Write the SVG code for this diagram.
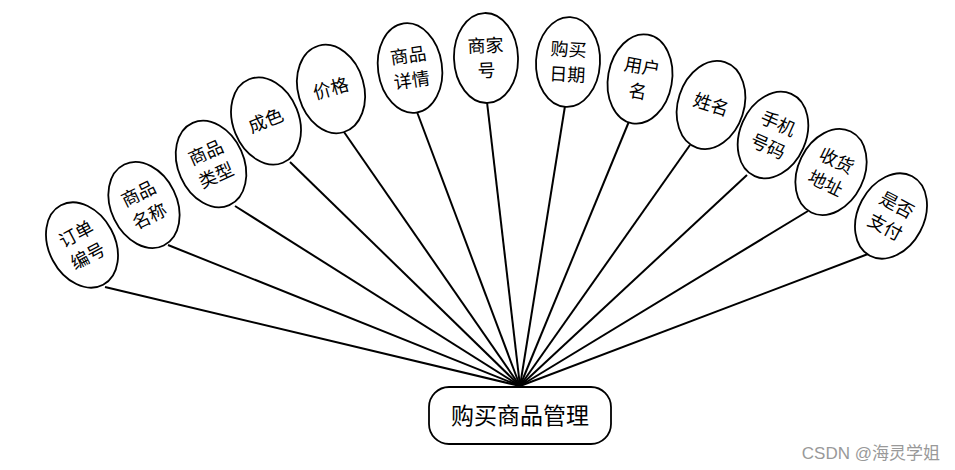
<svg xmlns="http://www.w3.org/2000/svg" width="955" height="470" viewBox="0 0 955 470">
<style>
.e{fill:#fff;stroke:#000;stroke-width:1.8}
.t{font-family:"Noto Sans CJK SC","Liberation Serif",serif;font-size:18px;fill:#000;text-anchor:middle}
.c line{stroke:#000;stroke-width:2}
</style>
<rect width="955" height="470" fill="#fff"/>
<g class="c" id="connectors">
<line x1="105" y1="287" x2="520" y2="386"/>
<line x1="168" y1="245" x2="520" y2="386"/>
<line x1="235" y1="206" x2="520" y2="386"/>
<line x1="290" y1="162" x2="520" y2="386"/>
<line x1="344" y1="132" x2="520" y2="386"/>
<line x1="417" y1="112" x2="520" y2="386"/>
<line x1="487" y1="102" x2="520" y2="386"/>
<line x1="565" y1="106" x2="520" y2="386"/>
<line x1="630" y1="119" x2="520" y2="386"/>
<line x1="690" y1="145" x2="520" y2="386"/>
<line x1="747" y1="175" x2="520" y2="386"/>
<line x1="808" y1="211" x2="520" y2="386"/>
<line x1="868" y1="254" x2="520" y2="386"/>
</g>
<g id="n1" transform="translate(82,245) rotate(-28)"><ellipse class="e" rx="33" ry="45"/><text class="t" y="-6">订单</text><text class="t" y="19">编号</text></g>
<g id="n2" transform="translate(144,205) rotate(-26)"><ellipse class="e" rx="33" ry="45"/><text class="t" y="-6">商品</text><text class="t" y="19">名称</text></g>
<g id="n3" transform="translate(211,164) rotate(-24)"><ellipse class="e" rx="33" ry="45"/><text class="t" y="-6">商品</text><text class="t" y="19">类型</text></g>
<g id="n4" transform="translate(266,121) rotate(-22)"><ellipse class="e" rx="33" ry="45"/><text class="t" y="6">成色</text></g>
<g id="n5" transform="translate(331,89) rotate(-16)"><ellipse class="e" rx="33" ry="45"/><text class="t" y="6">价格</text></g>
<g id="n6" transform="translate(410,68) rotate(-8)"><ellipse class="e" rx="32" ry="45"/><text class="t" y="-6">商品</text><text class="t" y="19">详情</text></g>
<g id="n7" transform="translate(486,58) rotate(-2)"><ellipse class="e" rx="32" ry="45"/><text class="t" y="-6">商家</text><text class="t" y="19">号</text></g>
<g id="n8" transform="translate(568,62) rotate(3)"><ellipse class="e" rx="32" ry="45"/><text class="t" y="-6">购买</text><text class="t" y="19">日期</text></g>
<g id="n9" transform="translate(640,79) rotate(10)"><ellipse class="e" rx="32" ry="45"/><text class="t" y="-6">用户</text><text class="t" y="19">名</text></g>
<g id="n10" transform="translate(711,105) rotate(18)"><ellipse class="e" rx="33" ry="45"/><text class="t" y="6">姓名</text></g>
<g id="n11" transform="translate(773,135) rotate(24)"><ellipse class="e" rx="33" ry="45"/><text class="t" y="-6">手机</text><text class="t" y="19">号码</text></g>
<g id="n12" transform="translate(831,172) rotate(26)"><ellipse class="e" rx="33" ry="45"/><text class="t" y="-6">收货</text><text class="t" y="19">地址</text></g>
<g id="n13" transform="translate(891,216) rotate(28)"><ellipse class="e" rx="33" ry="45"/><text class="t" y="-6">是否</text><text class="t" y="19">支付</text></g>
<g id="center"><rect x="429" y="387" width="182" height="57" rx="20" fill="#fff" stroke="#000" stroke-width="1.8"/><text x="520" y="424" font-family="Noto Sans CJK SC,Liberation Serif,serif" font-size="23" text-anchor="middle">购买商品管理</text></g>
<text x="940" y="459" font-family="Liberation Sans,Noto Sans CJK SC,sans-serif" font-size="17" fill="#999" text-anchor="end">CSDN @海灵学姐</text>
</svg>
